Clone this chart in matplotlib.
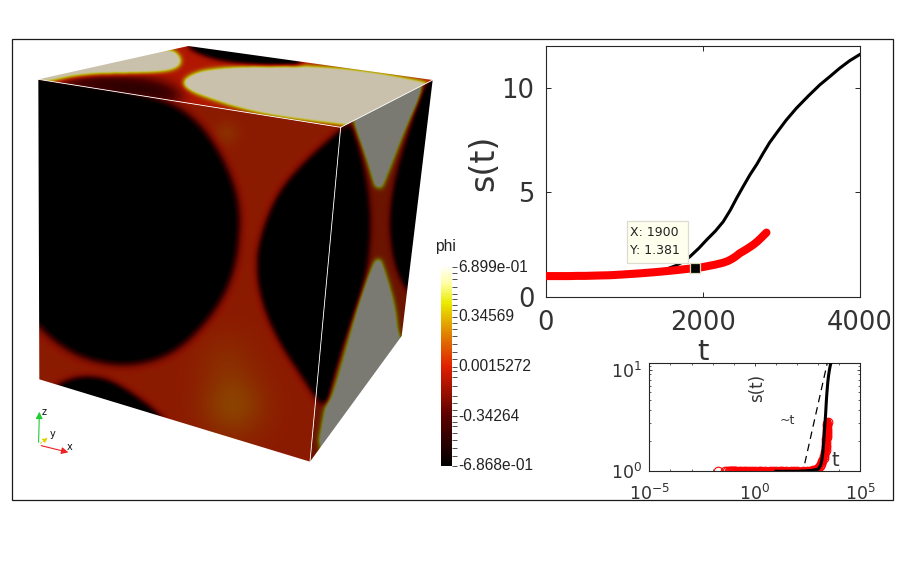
import numpy as np
import matplotlib
matplotlib.use("Agg")
import matplotlib.pyplot as plt
from matplotlib.colors import LinearSegmentedColormap, Normalize
from matplotlib.cm import ScalarMappable
from matplotlib.path import Path
from matplotlib.patches import Polygon, Rectangle

# ---------- data ----------
red_t = [0.018, 0.038, 0.05, 0.058, 0.065, 0.072, 0.08, 0.09, 0.1, 0.115, 0.13, 0.17, 0.22, 0.3, 0.4, 0.55, 0.75, 1, 1.5, 2, 3, 5, 7, 10, 15, 20,
         30, 50, 75, 100, 200, 300, 400, 500, 600, 700, 820, 1000, 1200, 1370, 1600, 1845, 2000, 2150, 2260, 2320, 2370, 2420,
         2470, 2520, 2560, 2600, 2640, 2690, 2730, 2770, 2810]
red_s = [1.0, 1.0, 1.0, 1.0, 1.0, 1.0, 1.0, 1.0, 1.0, 1.0, 1.0, 1.0, 1.0, 1.0, 1.0, 1.0, 1.0, 1.0, 1.0, 1.0, 1.0, 1.0, 1.0, 1.0, 1.0, 1.0,
         1.0, 1.0, 1.0, 1.0, 1.0, 1.0, 1.01, 1.01, 1.02, 1.03, 1.04, 1.08, 1.13, 1.18, 1.26, 1.36, 1.43, 1.54, 1.64, 1.72,
         1.82, 1.94, 2.09, 2.2, 2.29, 2.39, 2.49, 2.64, 2.78, 2.93, 3.08]
black_t = [10, 100, 500, 1000, 1300, 1500, 1650, 1752, 1837, 1950, 2049, 2160, 2260, 2350, 2430, 2520, 2600, 2690, 2768, 2850, 2937,
           3060, 3192, 3340, 3488, 3620, 3742, 3870, 4000]
black_s = [1.0, 1.0, 1.02, 1.05, 1.14, 1.28, 1.49, 1.69, 1.93, 2.33, 2.73, 3.15, 3.6, 4.15, 4.72, 5.32, 5.84, 6.36, 6.87, 7.38, 7.83,
           8.45, 9.03, 9.6, 10.14, 10.55, 10.94, 11.3, 11.6]
guide_t = [234, 2700]
guide_s = [1.2, 11.6]
tip_t = [1900]
tip_s = [1.381]
phi_ticks = [-0.6868, -0.34264, 0.0015272, 0.34569, 0.6899]
phi_labels = ["-6.868e-01", "-0.34264", "0.0015272", "0.34569", "6.899e-01"]
phi_minor = [-0.62, -0.56, -0.51, -0.46, -0.41, -0.38, -0.30, -0.25, -0.20, -0.13, -0.07, -0.03, 0.05, 0.10,
             0.16, 0.21, 0.26, 0.30, 0.39, 0.43, 0.47, 0.50, 0.55, 0.61, 0.65]

W, H = 907, 562
fig = plt.figure(figsize=(W / 100, H / 100), dpi=100, facecolor="white")

def rect(l, t, r, b):
    return [l / W, 1 - b / H, (r - l) / W, (b - t) / H]

bg = fig.add_axes([0, 0, 1, 1], zorder=0)
bg.set_xlim(0, W); bg.set_ylim(H, 0); bg.axis("off")
top = fig.add_axes([0, 0, 1, 1], zorder=10)
top.set_xlim(0, W); top.set_ylim(H, 0); top.axis("off"); top.patch.set_alpha(0)

top.add_patch(Rectangle((11.5, 38.5), 881, 461, fill=False, ec="#1a1a1a", lw=0.9))

# ---------- rendered cube ----------
hot = LinearSegmentedColormap.from_list("phi", [
    (0.0, (0, 0, 0)), (0.25, (0.35, 0, 0)), (0.5, (0.88, 0.12, 0)), (0.68, (0.88, 0.55, 0)),
    (0.82, (0.92, 0.92, 0.0)), (0.92, (1, 1, 0.65)), (1.0, (1, 1, 0.96))])
norm = Normalize(-0.6868, 0.6899)

def Z(pts):
    return [(20 + x / 3, 40 + y / 3) for x, y in pts]

x0, x1, y0, y1 = 30, 440, 40, 470
S = 2
gx = (np.arange((x1 - x0) * S) + 0.5) / S + x0
gy = (np.arange((y1 - y0) * S) + 0.5) / S + y0
XX, YY = np.meshgrid(gx, gy)
PTS = np.c_[XX.ravel(), YY.ravel()]
fx = np.fft.fftfreq(XX.shape[1], 1 / S)
fy = np.fft.fftfreq(XX.shape[0], 1 / S)
FX, FY = np.meshgrid(fx, fy)

def chaikin(pts, n=3):
    p = np.array(pts, float)
    for _ in range(n):
        q = np.roll(p, -1, axis=0)
        p = np.column_stack([0.75 * p + 0.25 * q, 0.25 * p + 0.75 * q]).reshape(-1, 2)
    return p

def soft(pts, sigma, smooth=3):
    m = Path(Z(chaikin(pts, smooth)), closed=False).contains_points(PTS).reshape(XX.shape).astype(float)
    K = np.exp(-2 * (np.pi * sigma) ** 2 * (FX ** 2 + FY ** 2))
    return np.real(np.fft.ifft2(np.fft.fft2(m) * K))

def blob(x, y, s):
    px, py = Z([(x, y)])[0]
    return np.exp(-((XX - px) ** 2 + (YY - py) ** 2) / (2 * (s / 3) ** 2))

disc = soft([(-60, 90), (60, 118), (200, 140), (330, 160), (460, 195), (545, 265), (605, 360), (645, 460), (655, 550),
             (640, 690), (580, 815), (465, 935), (330, 975), (200, 955), (105, 900), (40, 830), (-60, 820)], 4.5)
lens = soft([(985, 255), (870, 355), (780, 455), (728, 580), (712, 680), (732, 795), (782, 905), (845, 1000), (910, 1100),
             (935, 1075), (972, 950), (1010, 805), (1038, 680), (1048, 560), (1040, 450), (1015, 330), (990, 255)], 3.5)
low = soft([(90, 1060), (130, 1028), (190, 1012), (260, 1020), (330, 1060), (410, 1120), (450, 1170), (150, 1100)], 3.5)
rdark = soft([(1270, 90), (1212, 140), (1172, 270), (1130, 410), (1112, 530), (1120, 640), (1145, 720), (1185, 775),
              (1290, 400)], 3)
ugrey = soft([(1000, 225), (1005, 262), (1038, 350), (1075, 470), (1115, 370), (1158, 260), (1205, 165), (1205, 115)], 2.5, 1)
lgrey = soft([(1075, 640), (1040, 720), (1000, 820), (955, 950), (920, 1080), (890, 1240), (950, 1250), (1170, 960),
              (1135, 890), (1125, 800), (1100, 710)], 2.5, 1)
big = soft([(484, 125), (530, 95), (620, 83), (750, 78), (900, 80), (1050, 95), (1195, 122), (1240, 135), (1010, 258),
            (950, 250), (850, 238), (750, 224), (650, 201), (560, 171), (505, 150)], 2.5, 2)
tl = soft([(30, 105), (440, 22), (480, 45), (484, 76), (440, 94), (330, 100), (200, 103), (60, 130)], 2.5, 2)
tdark = soft([(490, 8), (530, 35), (600, 58), (700, 70), (790, 74), (870, 68), (700, -5)], 3, 2)
tband = soft([(40, 120), (200, 108), (350, 112), (450, 135), (520, 190), (300, 170)], 7)

f_front = 0.03 - 0.95 * disc - 0.95 * lens - 0.95 * low + 0.14 * blob(640, 1095, 65) + 0.07 * blob(620, 280, 25) \
          + 0.05 * blob(620, 960, 60)
f_right = 0.03 - 0.95 * lens - 0.95 * rdark + 0.95 * ugrey + 0.95 * lgrey
f_top = 0.0 + 0.95 * big + 0.95 * tl - 0.95 * tdark - 0.55 * tband

faces = [
    (f_top, (0.79, 0.76, 0.70), [(55, 118), (505, 18), (1238, 120), (962, 262)]),
    (f_right, (0.48, 0.48, 0.47), [(962, 262), (1238, 120), (1145, 888), (870, 1265)]),
    (f_front, (0.62, 0.62, 0.62), [(55, 118), (962, 262), (870, 1265), (58, 1018)]),
]
for field, shade, corners in faces:
    rgb = hot(norm(field))[..., :3] * np.array(shade)
    im = bg.imshow(rgb, extent=(x0, x1, y1, y0), interpolation="bilinear", aspect="auto", zorder=2)
    poly = Polygon(Z(corners), closed=True, transform=bg.transData, fc="none", ec="none")
    bg.add_patch(poly)
    im.set_clip_path(poly)
bg.set_xlim(0, W); bg.set_ylim(H, 0)

for a, b in [((55, 118), (962, 262)), ((962, 262), (870, 1265)), ((962, 262), (1238, 120))]:
    (xa, ya), (xb, yb) = Z([a, b])
    bg.plot([xa, xb], [ya, yb], color="white", lw=0.6, zorder=3)

# orientation triad
bg.annotate("", xy=(39.5, 409), xytext=(38.5, 445), arrowprops=dict(arrowstyle="-|>", color="#22cc33", lw=0.8, mutation_scale=10), zorder=4)
bg.annotate("", xy=(50, 436), xytext=(38.5, 445), arrowprops=dict(arrowstyle="-|>", color="#e0d000", lw=0.8, ls=":", mutation_scale=7), zorder=4)
bg.annotate("", xy=(71, 453), xytext=(38.5, 445), arrowprops=dict(arrowstyle="-|>", color="#ee2222", lw=0.8, mutation_scale=10), zorder=4)
for s, x, y in [("z", 44, 412), ("y", 53, 434), ("x", 70, 447)]:
    bg.text(x, y, s, fontsize=7, ha="center", va="center", color="#111111", zorder=4)

# ---------- colour bar ----------
cax = fig.add_axes(rect(441, 267, 452, 466), zorder=2)
cb = fig.colorbar(ScalarMappable(norm=norm, cmap=hot), cax=cax)
cb.outline.set_visible(False)
cb.set_ticks(phi_ticks)
cb.set_ticklabels([""] * len(phi_ticks))
cb.ax.yaxis.set_ticks(phi_minor, minor=True)
cb.ax.tick_params(which="both", length=3.6, width=0.6, color="#333333", right=True, pad=1)
for lab, v in zip(phi_labels, phi_ticks):
    yy = 466 - (v - norm.vmin) / (norm.vmax - norm.vmin) * 199
    yy = min(max(yy, 265), 465)
    bg.text(458, yy, lab, fontsize=11.2, family="Liberation Sans", ha="left", va="center", color="#222222")
bg.text(445.5, 246, "phi", fontsize=11.2, family="Liberation Sans", ha="center", va="center", color="#222222")

# ---------- main plot ----------
ink = "#262626"
ax = fig.add_axes(rect(545.5, 46, 860, 297), zorder=3)
ax.plot(black_t, black_s, color="black", lw=2.2, zorder=2)
ax.plot(red_t, red_s, color="red", lw=5.8, solid_capstyle="round", zorder=3)
ax.plot(tip_t, tip_s, ls="none", marker="s", ms=7.2, mfc="black", mec="#d8d8b8", mew=0.9, zorder=5)
ax.set_xlim(0, 4000); ax.set_ylim(0, 12)
ax.set_xticks([0, 2000, 4000]); ax.set_yticks([0, 5, 10])
ax.tick_params(direction="in", length=3.5, width=0.7, top=True, right=True, labelsize=18.5, labelcolor="#333333", color=ink)
ax.tick_params(axis="x", pad=9)
ax.tick_params(axis="y", pad=8)
for s in ax.spines.values():
    s.set_linewidth(0.8); s.set_color(ink)
top.text(484, 163, "s(t)", fontsize=24, rotation=90, ha="center", va="center", color="#333333")
top.text(703, 352, "t", fontsize=21, ha="center", va="center", color="#333333")

top.add_patch(Rectangle((626.7, 220.5), 61.6, 42, fc="#ffffee", ec="#dcdcd0", lw=0.9))
top.text(630.5, 232, "X: 1900", fontsize=9, ha="left", va="center", color="#222222")
top.text(630.5, 250, "Y: 1.381", fontsize=9, ha="left", va="center", color="#222222")

# ---------- inset ----------
ins = fig.add_axes(rect(649.3, 363.3, 860.3, 471.3), zorder=4)
ins.plot(red_t, red_s, ls="none", marker="o", ms=6.2, mfc="none", mec="red", mew=0.8, zorder=2)
ins.plot(red_t[10:], red_s[10:], color="red", lw=5.6, solid_capstyle="round", zorder=2, clip_on=True)
ins.plot(black_t, black_s, color="black", lw=2.2, zorder=3)
ins.plot(guide_t, guide_s, color="black", lw=0.9, ls=(0, (6, 4)), zorder=3)
ins.set_xscale("log"); ins.set_yscale("log")
ins.set_xlim(1e-5, 1e5); ins.set_ylim(1, 11.6)
ins.set_xticks([1e-5, 1, 1e5]); ins.set_yticks([1, 10])
ins.set_xticks([10.0 ** k for k in range(-4, 5) if k != 0], minor=True)
ins.set_xticklabels([], minor=True)
ins.set_yticks(list(range(2, 10)) + [11], minor=True); ins.set_yticklabels([], minor=True)
ins.tick_params(which="major", direction="in", length=2.5, width=0.6, top=True, right=True, labelsize=12.5, labelcolor="#333333", color=ink)
ins.tick_params(axis="x", which="major", pad=9)
ins.tick_params(axis="y", which="major", pad=5)
ins.tick_params(which="minor", direction="in", length=1.5, width=0.5, top=True, right=True, color=ink)
for s in ins.spines.values():
    s.set_linewidth(0.8); s.set_color(ink)
top.text(757, 388, "s(t)", fontsize=12, rotation=90, ha="center", va="center", color="#333333")
top.text(835, 460, "t", fontsize=14, ha="center", va="center", color="#333333")
top.text(787.5, 421, "~t", fontsize=9, ha="center", va="center", color="#333333")

fig.savefig("out.png", dpi=100, facecolor="white")
